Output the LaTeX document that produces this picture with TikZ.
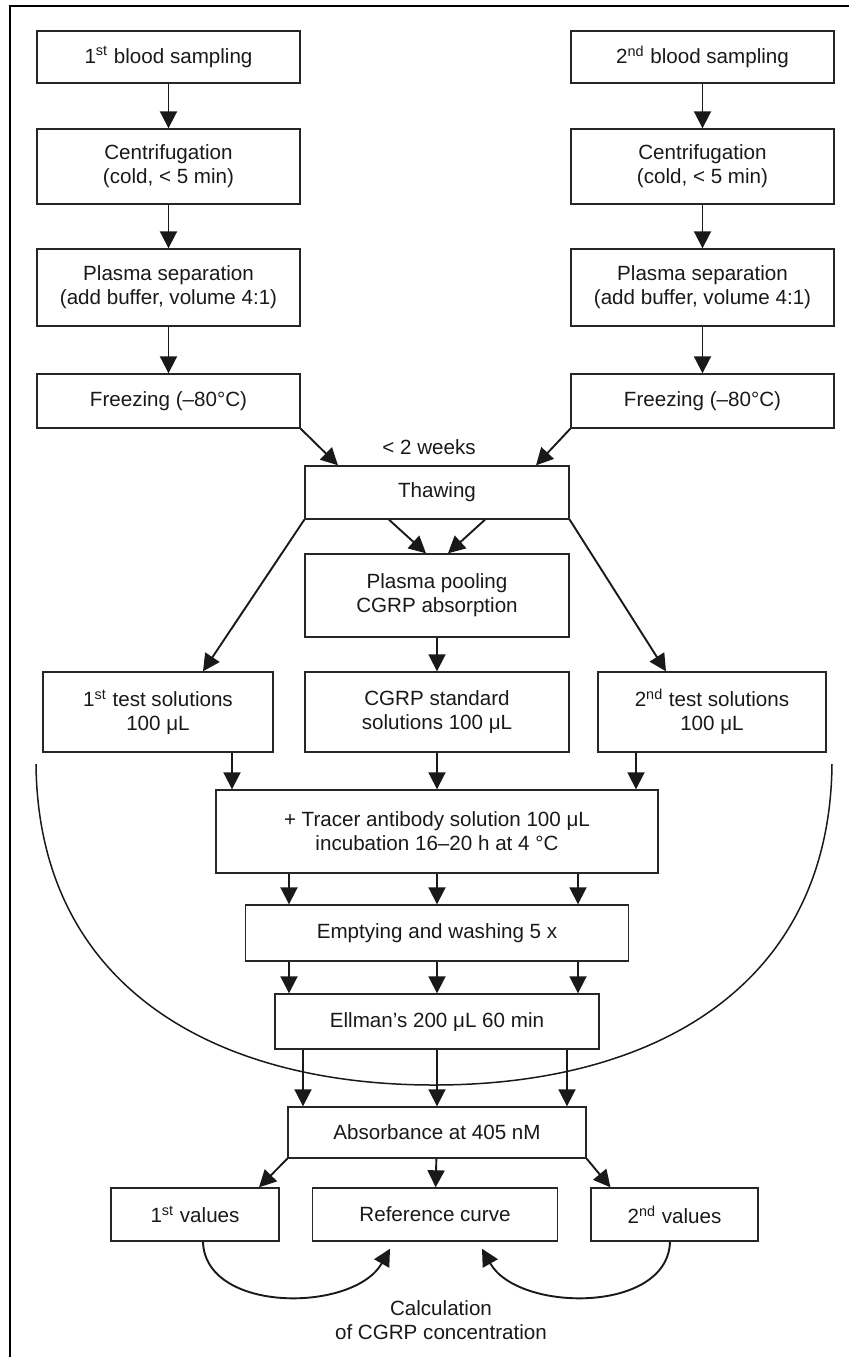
\documentclass[tikz,border=0pt]{standalone}
\usepackage{fontspec}
\setmainfont{Liberation Sans}
\usetikzlibrary{arrows.meta,calc}

\begin{document}
\begin{tikzpicture}[x=0.5pt,y=-0.5pt,
  box/.style 2 args={draw=black!85,line width=0.7pt,minimum width=#1pt,minimum height=#2pt,inner sep=1pt,align=center,font=\fontsize{10.3}{12}\selectfont,text=black!90},
  lbl/.style={align=center,font=\fontsize{10.3}{12}\selectfont,text=black!90},
  arr/.style={-{Triangle[length=8.5pt,width=8.5pt]},line width=0.95pt,draw=black!90}]
  \useasboundingbox (0,0) rectangle (849,1357);
  \draw[line width=1.1pt] (10,1357) -- (10,6) -- (849,6);
  % two sampling columns
  \node[box={131.5}{26}] (blood1) at (168.5,57) {1\textsuperscript{st} blood sampling};
  \node[box={131.5}{37.5}] (centri1) at (168.5,166.5) {Centrifugation\\(cold, < 5 min)};
  \node[box={131.5}{38.5}] (sep1) at (168.5,287.5) {Plasma separation\\(add buffer, volume 4:1)};
  \node[box={131.5}{27}] (freeze1) at (168.5,401) {Freezing (–80°C)};
  \node[box={131.5}{26}] (blood2) at (702.5,57) {2\textsuperscript{nd} blood sampling};
  \node[box={131.5}{37.5}] (centri2) at (702.5,166.5) {Centrifugation\\(cold, < 5 min)};
  \node[box={131.5}{38.5}] (sep2) at (702.5,287.5) {Plasma separation\\(add buffer, volume 4:1)};
  \node[box={131.5}{27}] (freeze2) at (702.5,401) {Freezing (–80°C)};
  \node[lbl] (weeks) at (429,447) {< 2 weeks};
  \node[box={132}{26.5}] (thaw) at (437,492.5) {Thawing};
  \node[box={132}{41.5}] (pool) at (437,595.5) {Plasma pooling\\CGRP absorption};
  \node[box={115}{40}] (test1) at (158,712) {1\textsuperscript{st} test solutions\\100 μL};
  \node[box={132}{40}] (std) at (437,712) {CGRP standard\\solutions 100 μL};
  \node[box={114}{40}] (test2) at (712,712) {2\textsuperscript{nd} test solutions\\100 μL};
  \node[box={221}{41.5}] (tracer) at (437,831.5) {+ Tracer antibody solution 100 μL\\incubation 16–20 h at 4 °C};
  \node[box={191.5}{28}] (wash) at (437,933) {Emptying and washing 5 x};
  \node[box={162}{27.5}] (ellman) at (437,1021.5) {Ellman’s 200 μL 60 min};
  \node[box={149}{25.5}] (absorb) at (437,1132.5) {Absorbance at 405 nM};
  \node[box={84}{26.5}] (val1) at (195,1214.5) {1\textsuperscript{st} values};
  \node[box={122.5}{26.5}] (refc) at (435,1214.5) {Reference curve};
  \node[box={83.5}{26.5}] (val2) at (674.5,1214.5) {2\textsuperscript{nd} values};
  \node[lbl] (calc) at (441,1320) {Calculation\\of CGRP concentration};
  \coordinate (arcL) at (36,764);
  \coordinate (arcB) at (434,1085);
  \coordinate (arcR) at (832,764);
  \foreach \c in {1,2} {
    \draw[arr] (blood\c) -- (centri\c);
    \draw[arr] (centri\c) -- (sep\c);
    \draw[arr] (sep\c) -- (freeze\c);
  }
  \draw[arr] (freeze1.south east) -- ([xshift=-49.5pt]thaw.north);
  \draw[arr] (freeze2.south west) -- ([xshift=49.5pt]thaw.north);
  \draw[arr] ([xshift=-24pt]thaw.south) -- ([xshift=-5.5pt]pool.north);
  \draw[arr] ([xshift=24pt]thaw.south) -- ([xshift=5.5pt]pool.north);
  \draw[arr] (thaw.south west) -- ([xshift=22.5pt]test1.north);
  \draw[arr] (thaw.south east) -- ([xshift=-23pt]test2.north);
  \draw[arr] (pool) -- (std);
  \draw[arr] ([xshift=37pt]test1.south) -- ([xshift=-102.5pt]tracer.north);
  \draw[arr] (std) -- (tracer);
  \draw[arr] ([xshift=-38pt]test2.south) -- ([xshift=99.5pt]tracer.north);
  \foreach \dx in {-74,0,70.5} {
    \draw[arr] ([xshift=\dx pt]tracer.south) -- ([xshift=\dx pt]wash.north);
    \draw[arr] ([xshift=\dx pt]wash.south) -- ([xshift=\dx pt]ellman.north);
  }
  \foreach \dx in {-67,0,65}
    \draw[arr] ([xshift=\dx pt]ellman.south) -- ([xshift=\dx pt]absorb.north);
  % the bowl round the assay steps
  \draw[line width=0.75pt,black!90] (arcL) .. controls +(1pt,-110.5pt) and +(-111pt,0pt) .. (arcB)
    .. controls +(111pt,0pt) and +(-1pt,-110.5pt) .. (arcR);
  \draw[arr] (absorb.south west) -- ([xshift=32pt]val1.north);
  \draw[arr] (absorb) -- (refc);
  \draw[arr] (absorb.south east) -- ([xshift=-32pt]val2.north);
  \draw[arr] ([xshift=4pt]val1.south) .. controls +(1pt,-36pt) and +(-18pt,-32pt) .. ([xshift=-22.5pt,yshift=-3.5pt]refc.south);
  \draw[arr] ([xshift=-2.25pt]val2.south) .. controls +(-1pt,-36pt) and +(18pt,-32pt) .. ([xshift=23.5pt,yshift=-3.5pt]refc.south);
\end{tikzpicture}
\end{document}
